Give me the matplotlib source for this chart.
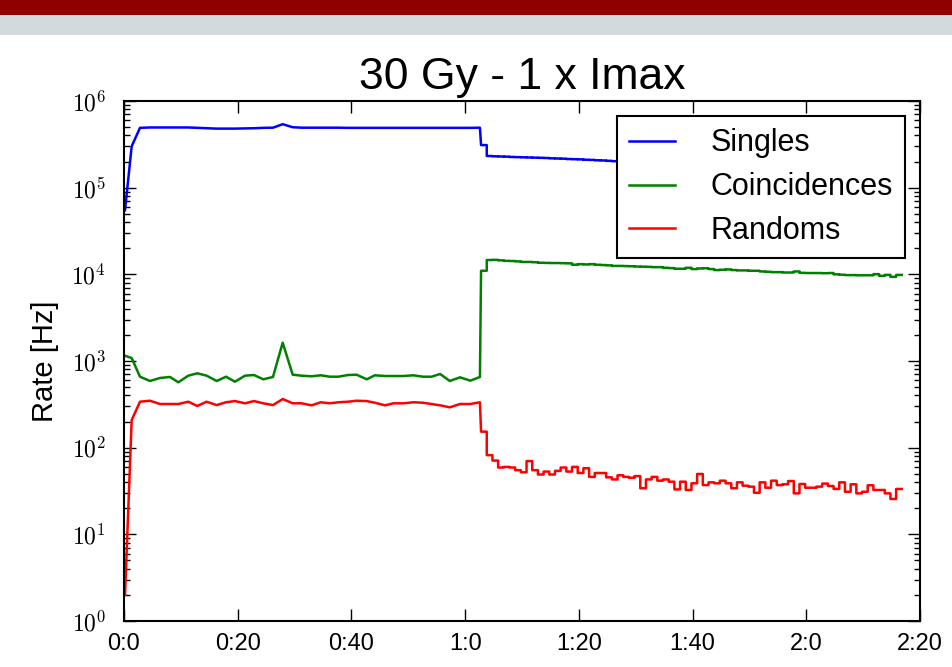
import matplotlib
matplotlib.use('Agg')
import matplotlib.pyplot as plt
import numpy as np
from matplotlib.patches import Rectangle
from matplotlib.ticker import FixedLocator, FuncFormatter, LogLocator, NullFormatter

plt.rcParams['font.family'] = ['Liberation Sans', 'DejaVu Sans']
plt.rcParams['mathtext.fontset'] = 'cm'

# first part: samples every ~1.7 min (minutes)
t_a = [0.18, 1.35, 2.81, 4.57, 6.33, 8.09, 9.55, 11.31, 12.89, 14.54,
       16.30, 17.94, 19.52, 21.28, 22.86, 24.5, 26.2, 27.91, 29.67, 31.25,
       33.0, 34.6, 36.2, 37.7, 39.4, 40.9, 42.7, 44.1, 45.9, 47.4,
       49.1, 50.9, 52.6, 54.1, 55.6, 57.3, 59.1, 60.9, 62.6]
singles_a = [5.5e4, 3.0e5, 4.9e5, 4.95e5, 4.95e5, 4.95e5, 4.95e5, 4.95e5, 4.9e5, 4.85e5,
             4.8e5, 4.8e5, 4.8e5, 4.82e5, 4.85e5, 4.9e5, 4.92e5, 5.4e5, 4.98e5, 4.92e5,
             4.92e5, 4.92e5, 4.92e5, 4.92e5, 4.9e5, 4.9e5, 4.9e5, 4.9e5, 4.9e5, 4.9e5,
             4.9e5, 4.9e5, 4.9e5, 4.9e5, 4.9e5, 4.9e5, 4.9e5, 4.9e5, 4.92e5]
coinc_a = [1150, 1082, 659, 588, 637, 654, 568, 677, 721, 677,
           588, 659, 577, 677, 689, 615, 654, 1626, 695, 677,
           666, 684, 659, 659, 689, 695, 615, 684, 671, 671,
           671, 684, 659, 659, 708, 588, 648, 593, 654]
randoms_a = [2, 208, 339, 348, 319, 319, 319, 339, 303, 339,
             310, 334, 345, 325, 345, 325, 310, 364, 325, 325,
             308, 334, 325, 334, 339, 348, 345, 330, 308, 325,
             325, 334, 330, 319, 308, 292, 319, 319, 334]

# second part: 1 min bins starting here
t_b0 = 62.8
singles_b = [310000, 232000, 230000, 229000, 228000, 226000, 225000, 224000, 223000, 222000,
             221000, 220000, 218000, 217000, 216000, 214000, 213000, 212000, 210000, 209000,
             207000, 206000, 204000, 202000, 201000, 200000, 199000, 198000, 197000, 196000,
             195000, 194000, 193000, 192000, 191000, 190000, 189000, 188000, 187000, 186000,
             185000, 184000, 183000, 182000, 181000, 180000, 179000, 178000, 177000, 176000,
             175500, 175000, 174000, 173000, 172500, 172000, 171000, 170500, 170000, 169000,
             168500, 168000, 167000, 166500, 166000, 165500, 165000, 164000, 163500, 163000,
             162500, 162000, 161500, 161000]
coinc_b = [11000, 14630, 14700, 14500, 14300, 14250, 14100, 13900, 13900, 13800,
           13600, 13550, 13500, 13500, 13450, 13400, 12900, 13100, 13000, 13100,
           12900, 12800, 12700, 12500, 12500, 12450, 12400, 12300, 12250, 12200,
           12100, 12100, 11900, 11800, 11600, 11600, 11900, 11500, 11700, 11750,
           11500, 11200, 11300, 11400, 11200, 11100, 11100, 11000, 11000, 10800,
           10700, 10600, 10600, 10500, 10500, 10800, 10400, 10350, 10350, 10350,
           10300, 10350, 10000, 9900, 9800, 9800, 9750, 9750, 9750, 10050,
           9600, 9850, 9350, 9850]
randoms_b = [153, 82, 71, 59, 60, 59, 55, 52, 70, 55,
             49, 53, 49, 54, 59, 53, 60, 51, 58, 46,
             51, 51, 45.5, 43, 48, 46, 45, 47, 34, 43,
             46, 41.6, 43, 40.5, 33, 40.5, 32.5, 38.8, 49.7, 37,
             39.8, 38.8, 41.6, 38.8, 34, 39.8, 36.4, 35.5, 30.2, 39.8,
             34.5, 41.6, 37, 37.8, 41.2, 29.7, 38.1, 34.5, 34.5, 35.5,
             38.5, 36.1, 33.4, 39.8, 31, 37.8, 29.7, 31, 36.8, 32.5,
             32.5, 29.7, 25.6, 33.4]

names = ['Singles', 'Coincidences', 'Randoms']
colors = ['#0000ff', '#008000', '#ff0000']
x_ticks = [0, 20, 40, 60, 80, 100, 120, 140]
y_ticks = [1, 10, 100, 1e3, 1e4, 1e5, 1e6]


def series(ya, yb):
    edges = t_b0 + np.arange(len(yb) + 1)
    xb = np.repeat(edges, 2)[1:-1]
    yb = np.repeat(yb, 2)
    return np.concatenate([t_a, xb]), np.concatenate([ya, yb])


fig = plt.figure(figsize=(9.53, 6.67), dpi=100)
H = 667.0
# slide header bands
fig.add_artist(Rectangle((0, 1 - 15 / H), 1, 15 / H, transform=fig.transFigure,
                         facecolor='#8f0000', edgecolor='none'))
fig.add_artist(Rectangle((0, 1 - 35 / H), 1, 20 / H, transform=fig.transFigure,
                         facecolor='#d3dadd', edgecolor='none'))

ax = fig.add_axes([124 / 953, 46 / H, 796 / 953, 520 / H])

for ya, yb, name, c in zip([singles_a, coinc_a, randoms_a],
                           [singles_b, coinc_b, randoms_b], names, colors):
    x, y = series(ya, yb)
    ax.plot(x, y, color=c, lw=1.8, label=name)

ax.set_yscale('log')
ax.set_ylim(1, 1e6)
ax.set_xlim(0, 140)
ax.xaxis.set_major_locator(FixedLocator(x_ticks))
ax.xaxis.set_major_formatter(FuncFormatter(lambda v, p: '%d:%d' % (v // 60, v % 60)))
ax.yaxis.set_major_locator(FixedLocator(y_ticks))
ax.yaxis.set_minor_locator(LogLocator(base=10, subs=np.arange(2, 10), numticks=10))
ax.yaxis.set_minor_formatter(NullFormatter())
ax.yaxis.set_major_formatter(FuncFormatter(lambda v, p: r'$10^{%d}$' % round(np.log10(v))))

ax.tick_params(which='both', direction='in', top=True, right=True, width=1)
ax.tick_params(which='major', length=8.5)
ax.tick_params(which='minor', length=4.5)
ax.tick_params(axis='x', labelsize=17, pad=9)
ax.tick_params(axis='y', labelsize=17, pad=13)
for s in ax.spines.values():
    s.set_linewidth(1.5)

ax.set_ylabel('Rate [Hz]', fontsize=21, labelpad=9)
ax.set_title('30 Gy - 1 x Imax', fontsize=32, pad=9)

leg = ax.legend(loc='upper right', fontsize=22, fancybox=False, framealpha=1,
                edgecolor='black', handlelength=1.5, handletextpad=1.15,
                labelspacing=0.45, borderpad=0.4, borderaxespad=0.5)
leg.get_frame().set_linewidth(1.5)

fig.savefig('out.png', dpi=100)
